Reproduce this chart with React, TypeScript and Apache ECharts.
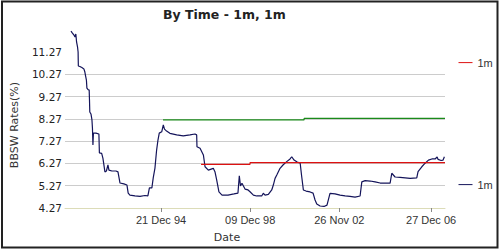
import React, { useEffect, useRef } from 'react';
import * as echarts from 'echarts';

const chartTitle = 'By Time - 1m, 1m';
const yAxisName = 'BBSW Rates(%)';
const xAxisName = 'Date';
const yTickValues = [4.27, 5.27, 6.27, 7.27, 8.27, 9.27, 10.27, 11.27];
const xTickDates = ['1994-12-21', '1998-12-09', '2002-11-26', '2006-12-27'];
const xRange = ['1990-09-12', '2007-08-10'];
const yRange = [4.27, 12.27];
const monthNames = ['Jan', 'Feb', 'Mar', 'Apr', 'May', 'Jun', 'Jul', 'Aug', 'Sep', 'Oct', 'Nov', 'Dec'];

const navyDates = [
  '1990-12-18', '1991-01-11', '1991-02-05', '1991-02-21', '1991-03-07', '1991-03-19', '1991-04-04', '1991-04-13',
  '1991-04-15', '1991-04-17', '1991-05-11', '1991-06-13', '1991-07-16', '1991-08-01', '1991-08-13', '1991-08-26',
  '1991-09-03', '1991-09-19', '1991-10-10', '1991-10-15', '1991-10-20', '1991-11-08', '1991-11-24', '1991-12-02',
  '1991-12-10', '1991-12-18', '1992-01-28', '1992-03-16', '1992-03-24', '1992-04-30', '1992-05-20', '1992-06-22',
  '1992-07-16', '1992-08-10', '1992-08-26', '1992-10-14', '1992-12-18', '1993-01-20', '1993-02-22', '1993-04-26',
  '1993-06-15', '1993-07-05', '1993-08-02', '1993-10-23', '1994-01-13', '1994-04-03', '1994-05-21', '1994-06-15',
  '1994-07-25', '1994-08-16', '1994-09-13', '1994-10-10', '1994-11-01', '1994-11-22', '1995-01-01', '1995-01-27',
  '1995-02-15', '1995-03-21', '1995-05-14', '1995-09-01', '1995-12-17', '1996-04-04', '1996-06-25', '1996-07-22',
  '1996-07-27', '1996-09-15', '1996-11-08', '1996-12-05', '1997-01-28', '1997-04-18', '1997-05-15', '1997-06-12',
  '1997-07-19', '1997-09-07', '1997-12-13', '1998-03-20', '1998-05-24', '1998-06-15', '1998-07-04', '1998-07-28',
  '1998-09-16', '1998-11-04', '1998-12-06', '1999-01-30', '1999-03-24', '1999-06-14', '1999-07-10', '1999-08-07',
  '1999-09-30', '1999-11-24', '1999-12-20', '2000-01-17', '2000-02-14', '2000-04-07', '2000-05-25', '2000-07-24',
  '2000-09-17', '2000-10-14', '2000-11-21', '2001-01-10', '2001-02-28', '2001-03-22', '2001-04-21', '2001-06-04',
  '2001-08-08', '2001-09-26', '2001-10-28', '2001-11-25', '2002-01-18', '2002-03-23', '2002-05-10', '2002-06-28',
  '2002-09-18', '2002-12-09', '2003-03-01', '2003-05-19', '2003-08-09', '2003-10-30', '2003-11-27', '2004-01-20',
  '2004-04-10', '2004-06-30', '2004-09-20', '2004-12-10', '2005-03-01', '2005-03-28', '2005-05-21', '2005-08-11',
  '2005-11-01', '2006-01-21', '2006-05-08', '2006-05-29', '2006-07-29', '2006-09-21', '2006-11-14', '2007-01-09',
  '2007-03-02', '2007-04-04', '2007-04-20', '2007-06-08', '2007-07-10', '2007-07-31',
];
const navyRates = [
  12.21, 12.12, 12.03, 11.94, 12.08, 11.72, 11.49, 11.27,
  10.91, 10.64, 10.62, 10.57, 10.51, 10.37, 10.19, 10.01,
  9.65, 9.59, 9.56, 9.12, 8.58, 8.49, 8.22, 7.86,
  7.10, 7.63, 7.63, 7.59, 6.74, 6.72, 6.51, 5.89,
  5.93, 6.20, 5.97, 5.93, 5.93, 5.89, 5.39, 5.35,
  5.30, 4.94, 4.85, 4.81, 4.79, 4.83, 4.81, 5.17,
  5.17, 5.62, 6.06, 6.87, 7.32, 7.63, 7.69, 8.00,
  7.81, 7.72, 7.62, 7.55, 7.51, 7.55, 7.59, 7.55,
  7.02, 6.95, 6.65, 6.12, 5.97, 6.05, 5.90, 5.53,
  4.99, 4.85, 4.85, 4.90, 4.94, 5.71, 5.26, 5.38,
  5.12, 5.08, 5.00, 4.85, 4.81, 4.81, 4.93, 4.85,
  4.88, 5.08, 5.30, 5.60, 5.75, 6.05, 6.20, 6.35,
  6.47, 6.57, 6.42, 6.33, 6.29, 5.75, 5.08, 5.03,
  4.99, 4.94, 4.63, 4.45, 4.36, 4.34, 4.40, 4.93,
  4.90, 4.85, 4.81, 4.79, 4.76, 4.81, 5.44, 5.50,
  5.48, 5.44, 5.39, 5.39, 5.39, 5.83, 5.66, 5.64,
  5.62, 5.60, 5.62, 5.90, 6.12, 6.28, 6.42, 6.47,
  6.47, 6.56, 6.45, 6.40, 6.42, 6.57,
];
const redDates = ['1996-10-01', '1998-12-06', '1998-12-07', '2007-08-10'];
const redRates = [6.23, 6.23, 6.31, 6.31];
const greenDates = ['1995-01-22', '2001-05-02', '2001-05-03', '2007-08-10'];
const greenRates = [8.22, 8.22, 8.29, 8.29];

const NAVY = '#14145a';
const RED = '#dd1111';
const GREEN = '#1a8a1a';

function localTime(s: string): number {
  const [y, m, d] = s.split('-').map(Number);
  return new Date(y, m - 1, d).getTime();
}

function fmtDate(v: number): string {
  const d = new Date(v);
  const dd = String(d.getDate()).padStart(2, '0');
  const yy = String(d.getFullYear()).slice(2);
  return `${dd} ${monthNames[d.getMonth()]} ${yy}`;
}

export default function App() {
  const ref = useRef<HTMLDivElement>(null);
  useEffect(() => {
    if (!ref.current) return;
    const chart = echarts.init(ref.current, undefined, { renderer: 'svg' });
    const pair = (ds: string[], vs: number[]) => ds.map((d, i) => [localTime(d), vs[i]]);
    const xTicks = xTickDates.map(localTime);
    const legendBase = {
      left: 458,
      padding: 0,
      itemWidth: 14,
      itemHeight: 14,
      itemGap: 5,
      selectedMode: false,
      textStyle: { fontFamily: 'Liberation Sans', fontSize: 11, color: '#333' },
    };
    chart.setOption({
      animation: false,
      backgroundColor: '#ffffff',
      title: {
        text: chartTitle,
        left: 163,
        top: 7.5,
        padding: 0,
        textStyle: { fontFamily: 'DejaVu Sans', fontWeight: 'bold', fontSize: 12.5, color: '#222' },
      },
      legend: [
        {
          ...legendBase,
          top: 57,
          data: [{ name: '1m', itemStyle: { color: RED, opacity: 0 }, lineStyle: { color: RED, width: 1 } }],
        },
        {
          ...legendBase,
          top: 179,
          data: [{ name: '1m', itemStyle: { color: NAVY, opacity: 0 }, lineStyle: { color: NAVY, width: 1 } }],
        },
      ],
      grid: { left: 65, right: 55, top: 29.7, bottom: 42, outerBoundsMode: 'none' },
      xAxis: {
        type: 'value',
        min: localTime(xRange[0]),
        max: localTime(xRange[1]),
        axisLine: { show: true, lineStyle: { color: '#dcdcb8', width: 1 } },
        axisTick: { show: true, customValues: xTicks, length: 4, lineStyle: { color: '#888' } },
        axisLabel: {
          customValues: xTicks,
          formatter: (v: number) => fmtDate(v),
          fontFamily: 'Liberation Sans',
          fontSize: 11,
          color: '#333',
          margin: 6,
        },
        splitLine: { show: false },
      },
      yAxis: {
        type: 'value',
        min: yRange[0],
        max: yRange[1],
        axisLine: { show: false },
        axisTick: { show: false, customValues: yTickValues },
        axisLabel: {
          customValues: yTickValues,
          formatter: (v: number) => v.toFixed(2),
          fontFamily: 'DejaVu Sans',
          fontSize: 10.5,
          color: '#222',
          margin: 3,
        },
        splitLine: { show: true, showMinLine: false, showMaxLine: false, lineStyle: { color: '#cccccc', width: 1 } },
      },
      graphic: [
        {
          type: 'rect',
          shape: { x: 2, y: 1.5, width: 495.5, height: 246 },
          style: { fill: 'none', stroke: '#222', lineWidth: 2 },
          silent: true,
        },
        {
          type: 'text',
          x: 14,
          y: 125,
          rotation: Math.PI / 2,
          style: { text: yAxisName, fontFamily: 'DejaVu Sans', fontSize: 11, fill: '#333', align: 'center', verticalAlign: 'middle' },
        },
        {
          type: 'text',
          x: 227,
          y: 237.5,
          style: { text: xAxisName, fontFamily: 'DejaVu Sans', fontSize: 11, fill: '#333', align: 'center', verticalAlign: 'middle' },
        },
      ],
      series: [
        {
          name: '1m',
          type: 'line',
          symbol: 'none',
          data: pair(navyDates, navyRates),
          lineStyle: { color: NAVY, width: 1.2 },
          itemStyle: { color: NAVY },
          z: 2,
        },
        {
          name: '1m',
          type: 'line',
          symbol: 'none',
          data: pair(redDates, redRates),
          lineStyle: { color: RED, width: 1.2 },
          itemStyle: { color: RED },
          z: 3,
        },
        {
          name: '1m',
          type: 'line',
          symbol: 'none',
          data: pair(greenDates, greenRates),
          lineStyle: { color: GREEN, width: 1.2 },
          itemStyle: { color: GREEN },
          z: 3,
        },
      ],
    });
    return () => chart.dispose();
  }, []);
  return (
    <div
      ref={ref}
      style={{ position: 'absolute', left: 0, top: 0, width: 500, height: 250, background: '#fff' }}
    />
  );
}
